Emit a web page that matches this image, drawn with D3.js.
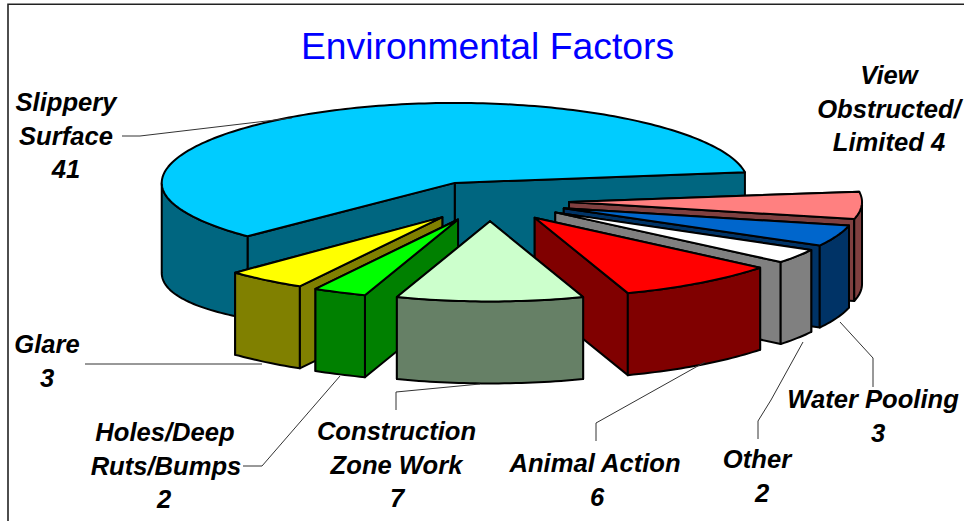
<!DOCTYPE html>
<html>
<head>
<meta charset="utf-8">
<style>
  body { margin: 0; background: #fff; }
  .label { font-family: "Liberation Sans", Arial, sans-serif; font-size: 25.6px; font-weight: bold; font-style: italic; fill: #000; text-anchor: middle; }
  .title { font-family: "Liberation Sans", Arial, sans-serif; font-size: 37.3px; fill: #0000ff; text-anchor: middle; }
  .leader { fill: none; stroke: #333; stroke-width: 1; }
  .face { stroke: #000; stroke-width: 2; stroke-linejoin: round; }
</style>
</head>
<body>
<script src="https://d3js.org/d3.v7.min.js"></script>
<script>
var categories = ["Slippery Surface", "View Obstructed/Limited", "Water Pooling", "Other", "Animal Action", "Construction Zone Work", "Holes/Deep Ruts/Bumps", "Glare"];
var values = [41, 4, 3, 2, 6, 7, 2, 3];
var topColors = ["#00ccff", "#ff8080", "#0066cc", "#ffffff", "#ff0000", "#ccffcc", "#00ff00", "#ffff00"];
var wallColors = ["#006680", "#804040", "#003366", "#808080", "#800000", "#668066", "#008000", "#808000"];
var labelLines = [
  ["Slippery", "Surface", "41"],
  ["View", "Obstructed/", "Limited 4"],
  ["Water Pooling", "3"],
  ["Other", "2"],
  ["Animal Action", "6"],
  ["Construction", "Zone Work", "7"],
  ["Holes/Deep", "Ruts/Bumps", "2"],
  ["Glare", "3"]
];
// label anchor: centre x of each line, first baseline
var labelX = [[66, 66, 66], [889, 889, 889], [873, 878], [757, 762], [595, 597], [396.5, 396.5, 397], [165, 166, 164], [47, 47]];
var labelY = [111, 84, 408, 468, 472, 440, 441, 353];
var leaders = [
  [[122, 136], [140, 136], [292, 118]],
  [],
  [[873, 387], [873, 358], [840, 322]],
  [[758, 439], [758, 421], [771, 400], [803, 342]],
  [[596, 441], [596, 423], [705, 362]],
  [[396, 410], [396, 392], [480, 384]],
  [[243, 466], [262, 466], [340, 376]],
  [[85, 364], [262, 364]]
];
// back to front
var drawOrder = [0, 1, 2, 3, 4, 7, 6, 5];

var width = 964, height = 521;
var cx = 490, cy = 201, rx = 293, wallH = 82, explode = 0.27;

var svg = d3.select("body").append("svg")
    .attr("width", width)
    .attr("height", height)
    .style("display", "block");

svg.append("path")
    .attr("d", "M8,521V4.2H964")
    .attr("fill", "none")
    .attr("stroke", "#222")
    .attr("stroke-width", 1.6);

svg.append("text")
    .attr("class", "title")
    .attr("x", 487.5)
    .attr("y", 59)
    .text("Environmental Factors");

var startDeg = -135;
var pie = d3.pie().sort(null)
    .startAngle(startDeg * Math.PI / 180)
    .endAngle(startDeg * Math.PI / 180 + 2 * Math.PI);
var arcs = pie(values);

// ground plane to screen, the depth axis is stretched a bit towards the viewer
var sx = d3.scaleLinear().domain([-1, 1]).range([cx - rx, cx + rx]);
function sy(y) { return cy + 74 * y + 4 * y * Math.abs(y); }

function sliceOffset(d) {
  var mid = (d.startAngle + d.endAngle) / 2;
  return [explode * Math.sin(mid), -explode * Math.cos(mid)];
}

function point(d, angle, r) {
  var o = sliceOffset(d);
  return [sx(o[0] + r * Math.sin(angle)), sy(o[1] - r * Math.cos(angle))];
}

// the wall is a little taller at the far left of the big slice
function wallAt(angle) {
  var s = Math.sin(angle);
  return s < -0.7 ? wallH + 8 * (-s - 0.7) / 0.3 : wallH;
}

function drop(p, h) { return [p[0], p[1] + h]; }

var line = d3.line();

function arcPoints(a0, a1, d) {
  var n = Math.max(2, Math.ceil(Math.abs(a1 - a0) / 0.02));
  return d3.range(n + 1).map(function(i) {
    return point(d, a0 + (a1 - a0) * i / n, 1);
  });
}

var g = svg.selectAll("g.slice")
    .data(drawOrder)
    .enter().append("g")
    .attr("class", "slice");

g.each(function(i) {
  var d = arcs[i], sel = d3.select(this);
  var apex = point(d, 0, 0);

  function face(pts, color) {
    sel.append("path").attr("class", "face")
      .attr("fill", color)
      .attr("d", line(pts) + "Z");
  }

  // radial walls, far one first
  var ends = [d.startAngle, d.endAngle].sort(function(a, b) {
    return point(d, a, 1)[1] - point(d, b, 1)[1];
  });
  ends.forEach(function(a) {
    var p = point(d, a, 1), h = wallAt(a);
    face([apex, p, drop(p, h), drop(apex, wallH)], wallColors[i]);
  });

  // outer wall, only the part that faces the viewer
  var turns = [Math.PI / 2, 3 * Math.PI / 2];
  var twoPi = 2 * Math.PI;
  var a0 = d.startAngle, a1 = d.endAngle;
  [-twoPi, 0, twoPi].forEach(function(k) {
    var lo = Math.max(a0, turns[0] + k), hi = Math.min(a1, turns[1] + k);
    if (hi > lo) {
      var n = Math.ceil((hi - lo) / 0.02), topEdge = [], lowEdge = [];
      for (var j = 0; j <= n; j++) {
        var a = lo + (hi - lo) * j / n, p = point(d, a, 1);
        topEdge.push(p);
        lowEdge.unshift(drop(p, wallAt(a)));
      }
      face(topEdge.concat(lowEdge), wallColors[i]);
    }
  });

  face([apex].concat(arcPoints(d.startAngle, d.endAngle, d)), topColors[i]);
});

svg.selectAll("path.leader")
    .data(leaders)
    .enter().append("path")
    .attr("class", "leader")
    .attr("d", function(d) { return d.length ? line(d) : null; });

labelLines.forEach(function(lines, i) {
  var t = svg.append("text").attr("class", "label");
  t.selectAll("tspan")
    .data(lines)
    .enter().append("tspan")
    .attr("x", function(d, j) { return labelX[i][j]; })
    .attr("y", function(d, j) { return labelY[i] + j * 33.7; })
    .text(function(d) { return d; });
});
</script>
</body>
</html>
